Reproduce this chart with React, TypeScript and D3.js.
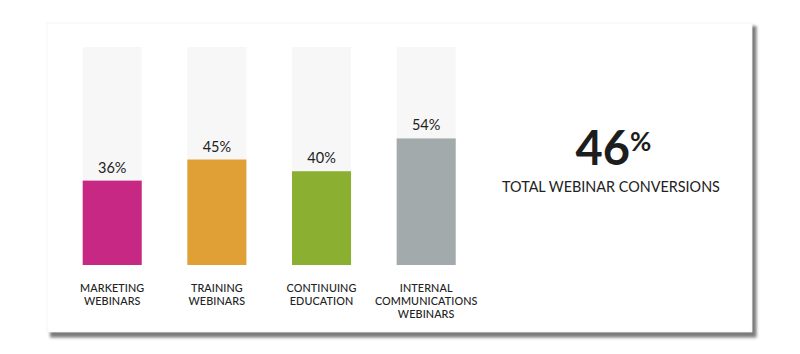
import * as d3 from "d3";

// chart data
const categories = ["marketing", "training", "continuing", "internal"];
const labelLines = [
  ["MARKETING", "WEBINARS"],
  ["TRAINING", "WEBINARS"],
  ["CONTINUING", "EDUCATION"],
  ["INTERNAL", "COMMUNICATIONS", "WEBINARS"],
];
const conversions = [36, 45, 40, 54];
const barColors = ["#C72884", "#E0A035", "#8BAF31", "#A2AAAC"];
const totalValue = 46;
const totalLabel = "TOTAL WEBINAR CONVERSIONS";

const W = 800;
const H = 354;
const font = "Lato, 'Open Sans', sans-serif";

export default function App() {
  // layout
  const card = { x: 47, y: 23, w: 705, h: 309 };
  const trackTop = 47;
  const trackBottom = 265;

  const x = d3.scaleBand<string>()
    .domain(categories)
    .range([82.7, 455.7])
    .paddingInner(0.436)
    .paddingOuter(0);

  // track = full height of scale (bars drawn relative to it)
  const y = d3.scaleLinear().domain([0, 93]).range([trackBottom, trackTop]);

  const bigX = 630;

  return (
    <svg width={W} height={H} style={{ position: "absolute", left: 0, top: 0, fontFamily: font }}>
      <defs>
        <filter id="shadow" x="-5%" y="-5%" width="115%" height="115%">
          <feGaussianBlur stdDeviation="1.5" />
        </filter>
      </defs>
      <rect width={W} height={H} fill="#ffffff" />
      {/* card w/ shadow */}
      <rect x={card.x + 3} y={card.y + 3} width={card.w + 1.5} height={card.h + 2.5} fill="#7a7a7a" filter="url(#shadow)" />
      <rect x={card.x} y={card.y} width={card.w} height={card.h} fill="#ffffff" stroke="#f2f2f2" strokeWidth={0.8} />

      {categories.map((c, i) => {
        const bx = x(c)!;
        const bw = x.bandwidth();
        const cx = bx + bw / 2;
        const v = conversions[i];
        return (
          <g key={c}>
            <rect x={bx} y={y(93)} width={bw} height={y(0) - y(93)} fill="#F7F7F7" />
            <rect x={bx} y={y(v)} width={bw} height={y(0) - y(v)} fill={barColors[i]} />
            <text x={cx} y={y(v) - 8} textAnchor="middle" fontSize={14.5} fill="#222">
              {v}%
            </text>
            {labelLines[i].map((line, j) => (
              <text key={j} x={cx} y={292 + j * 12.8} textAnchor="middle" fontSize={10.8} fontWeight={500} fill="#222" letterSpacing={0.1}>
                {line}
              </text>
            ))}
          </g>
        );
      })}

      <text x={bigX} y={165} textAnchor="end" fontSize={47} fontWeight={700} fill="#1d1d1d">
        {totalValue}
      </text>
      <text x={bigX} y={151} textAnchor="start" fontSize={26} fontWeight={700} fill="#1d1d1d">
        %
      </text>
      <text x={611} y={192} textAnchor="middle" fontSize={14.4} fill="#222">
        {totalLabel}
      </text>
    </svg>
  );
}
